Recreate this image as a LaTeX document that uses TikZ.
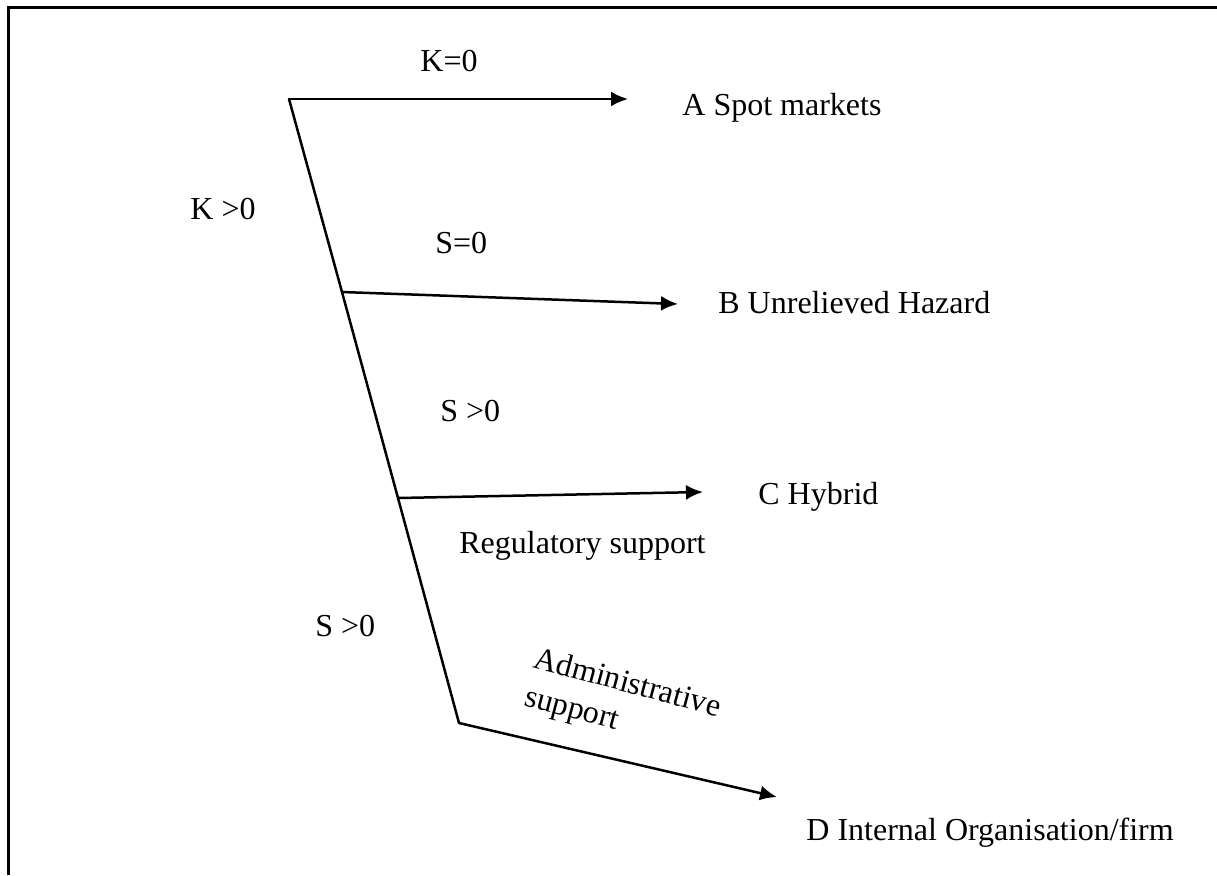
\documentclass[tikz,border=0pt]{standalone}
\usepackage{fontspec}
\setmainfont{Liberation Serif}
\usetikzlibrary{arrows.meta}
\tikzset{
  lbl/.style={anchor=base west, inner sep=0pt, font=\fontsize{16}{19}\selectfont},
  ln/.style={line width=1.25pt, line cap=round},
  arr/.style={ln, -{Latex[length=8.5pt,width=7.5pt]}},
}
\begin{document}
\begin{tikzpicture}[x=0.5pt,y=-0.5pt]
\useasboundingbox (0,0) rectangle (1217,875);
\draw[line width=1.5pt] (1217,7) -- (8,7) -- (8,875);
% joints
\coordinate (p0) at (289,99);
\coordinate (pb) at (342,292);
\coordinate (pc) at (398,498);
\coordinate (pd) at (459,723);
\coordinate (ta) at (628,99);
\coordinate (tb) at (678,304);
\coordinate (tc) at (703,492);
\coordinate (td) at (777,797);
% main trunk
\draw[ln] (p0) -- (pb) -- (pc) -- (pd);
% branches
\draw[arr] (p0) -- (ta);
\draw[arr] (pb) -- (tb);
\draw[arr] (pc) -- (tc);
\draw[arr] (pd) -- (td);
% labels
\node[lbl] (k0) at (420,71) {K=0};
\node[lbl] (A) at (682,115) {A Spot markets};
\node[lbl] (kg) at (190,219) {K >0};
\node[lbl] (s0) at (435,253) {S=0};
\node[lbl] (B) at (718,313) {B Unrelieved Hazard};
\node[lbl] (sg1) at (440,421) {S >0};
\node[lbl] (C) at (758,504) {C Hybrid};
\node[lbl] (reg) at (459,553) {Regulatory support};
\node[lbl] (sg2) at (315,636) {S >0};
\node[lbl, rotate=-15] (adm1) at (532,667) {Administrative};
\node[lbl, rotate=-15] (adm2) at (523,705) {support};
\node[lbl] (D) at (806,840) {D Internal Organisation/firm};
\end{tikzpicture}
\end{document}
